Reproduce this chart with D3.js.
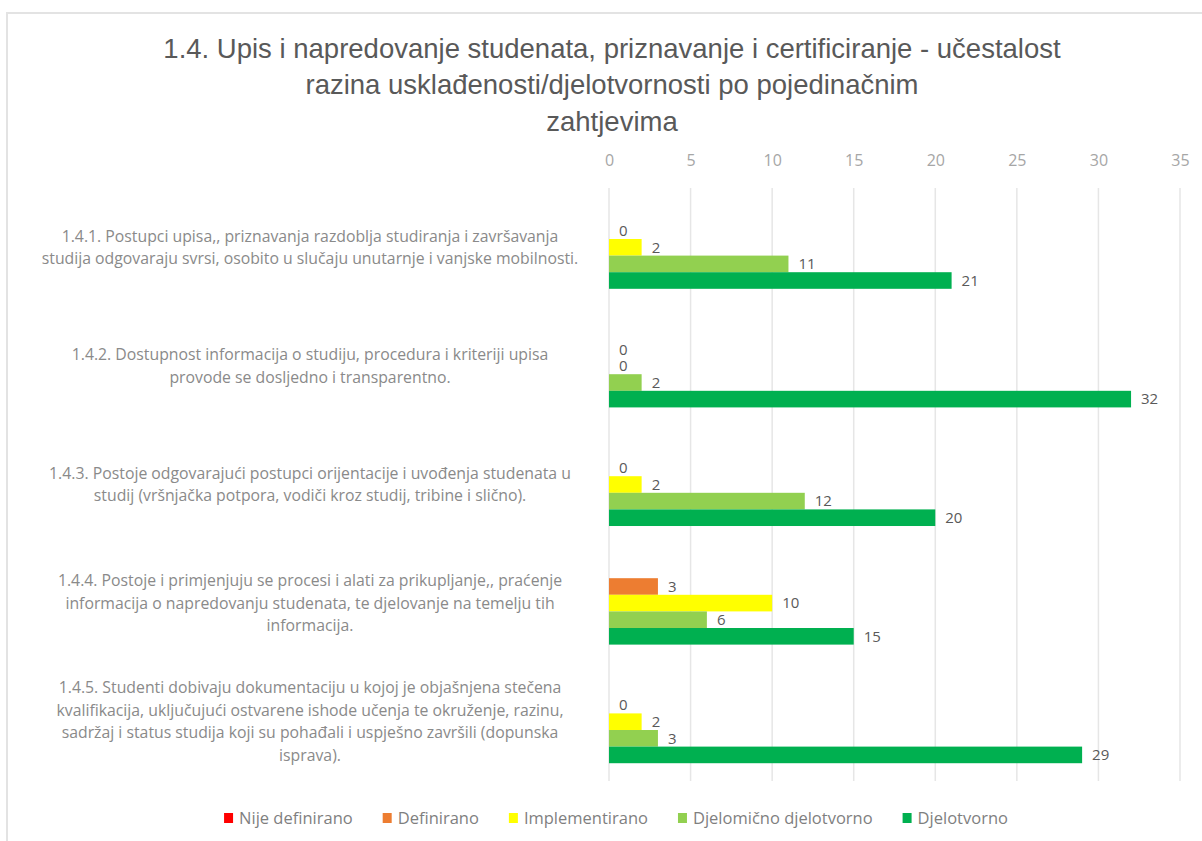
<!DOCTYPE html>
<html>
<head>
<meta charset="utf-8">
<script src="https://cdn.jsdelivr.net/npm/d3@7"></script>
<style>
  body { margin: 0; background: #fff; }
  svg { display: block; }
  text { font-family: 'Open Sans', 'Liberation Sans', sans-serif; }
</style>
</head>
<body>
<div id="chart"></div>
<script>
// data
var titleLines = [
    '1.4. Upis i napredovanje studenata, priznavanje i certificiranje - učestalost',
    'razina usklađenosti/djelotvornosti po pojedinačnim',
    'zahtjevima'
]

var categories = ['1.4.1.', '1.4.2.', '1.4.3.', '1.4.4.', '1.4.5.']

var categoryLines = [
    ['1.4.1. Postupci upisa,, priznavanja razdoblja studiranja i završavanja',
     'studija odgovaraju svrsi, osobito u slučaju unutarnje i vanjske mobilnosti.'],
    ['1.4.2. Dostupnost informacija o  studiju, procedura i kriteriji upisa',
     'provode se dosljedno i transparentno.'],
    ['1.4.3. Postoje odgovarajući postupci orijentacije i uvođenja studenata u',
     'studij (vršnjačka potpora, vodiči  kroz studij, tribine i slično).'],
    ['1.4.4. Postoje i primjenjuju se procesi i alati za prikupljanje,, praćenje',
     'informacija o napredovanju studenata, te djelovanje na temelju tih',
     'informacija.'],
    ['1.4.5. Studenti dobivaju dokumentaciju u kojoj je objašnjena stečena',
     'kvalifikacija, uključujući ostvarene  ishode učenja te okruženje, razinu,',
     'sadržaj i status studija koji su pohađali i uspješno završili (dopunska',
     'isprava).']
]

var seriesNames = ['Nije definirano', 'Definirano', 'Implementirano', 'Djelomično djelotvorno', 'Djelotvorno']

var nijeDefinirano = [null, null, null, null, null]
var definirano = [0, 0, 0, 3, 0]
var implementirano = [2, 0, 2, 10, 2]
var djelomicnoDjelotvorno = [11, 2, 12, 6, 3]
var djelotvorno = [21, 32, 20, 15, 29]

var xTicks = [0, 5, 10, 15, 20, 25, 30, 35]

var seriesValues = [nijeDefinirano, definirano, implementirano, djelomicnoDjelotvorno, djelotvorno]
var colors = ['#ff0000', '#ed7d31', '#ffff00', '#92d050', '#00b050']

var W = 1202,
    H = 841

var svg = d3.select('#chart')
    .append('svg')
    .attr('width', W)
    .attr('height', H)

// chart border (runs off the picture on the right and bottom)
svg.append('rect')
    .attr('x', 7)
    .attr('y', 13)
    .attr('width', 1300)
    .attr('height', 1000)
    .attr('fill', 'none')
    .attr('stroke', '#e3e3e3')
    .attr('stroke-width', 2)

// title
svg.append('g')
    .selectAll('text')
    .data(titleLines)
    .enter()
    .append('text')
    .text(d => d)
    .attr('x', 612)
    .attr('y', (d, i) => 48 + i * 36.5)
    .attr('dy', '0.35em')
    .attr('text-anchor', 'middle')
    .attr('fill', '#595959')
    .style('font-family', "'Liberation Sans', sans-serif")
    .style('font-size', '27.5px')

// scales
var xscale = d3.scaleLinear()
    .domain([0, 35])
    .range([609, 1180])

var yscale = d3.scaleBand()
    .domain(categories)
    .range([188, 781])
    .paddingInner(0.3)
    .paddingOuter(0.15)

var sscale = d3.scaleBand()
    .domain(seriesNames)
    .range([0, yscale.bandwidth()])

// grid
svg.append('g')
    .selectAll('line')
    .data(xTicks)
    .enter()
    .append('line')
    .attr('x1', d => xscale(d))
    .attr('x2', d => xscale(d))
    .attr('y1', 188)
    .attr('y2', 781)
    .attr('stroke', '#e6e6e6')
    .attr('stroke-width', 1.5)

// top axis
var xaxis = d3.axisTop(xscale)
    .tickValues(xTicks)
    .tickSize(0)
    .tickPadding(0)
var gx = svg.append('g')
    .attr('transform', 'translate(0, 166)')
    .call(xaxis)
gx.select('.domain').remove()
gx.selectAll('text')
    .attr('fill', '#a6a6a6')
    .style('font-size', '16px')
    .style('font-family', "'Open Sans', sans-serif")

// category labels
var catG = svg.append('g')
    .selectAll('g')
    .data(categories)
    .enter()
    .append('g')
    .attr('transform', d => `translate(310, ${yscale(d) + yscale.bandwidth() / 2})`)

catG.each(function (d, i) {
    var lines = categoryLines[i]
    d3.select(this).selectAll('text')
        .data(lines)
        .enter()
        .append('text')
        .text(t => t)
        .attr('x', 0)
        .attr('y', (t, j) => (j - (lines.length - 1) / 2) * 22.5)
        .attr('dy', '0.35em')
        .attr('text-anchor', 'middle')
        .attr('fill', '#8a8a8a')
        .style('font-size', '15.8px')
})

// bars
var rows = []
seriesValues.forEach((vals, s) => {
    vals.forEach((v, c) => {
        if (v !== null) rows.push({ series: seriesNames[s], color: colors[s], cat: categories[c], value: v })
    })
})

svg.append('g')
    .selectAll('rect')
    .data(rows)
    .enter()
    .append('rect')
    .attr('x', xscale(0))
    .attr('y', d => yscale(d.cat) + sscale(d.series))
    .attr('width', d => xscale(d.value) - xscale(0))
    .attr('height', sscale.bandwidth())
    .attr('fill', d => d.color)

// value labels
svg.append('g')
    .selectAll('text')
    .data(rows)
    .enter()
    .append('text')
    .text(d => d.value)
    .attr('x', d => xscale(d.value) + 10)
    .attr('y', d => yscale(d.cat) + sscale(d.series) + sscale.bandwidth() / 2)
    .attr('dy', '0.35em')
    .attr('fill', '#595959')
    .style('font-size', '15px')

// legend
var legend = svg.append('g')
var lx = 0
seriesNames.forEach((name, i) => {
    var item = legend.append('g').attr('transform', `translate(${lx}, 0)`)
    item.append('rect')
        .attr('x', 0)
        .attr('y', -5)
        .attr('width', 9)
        .attr('height', 10)
        .attr('fill', colors[i])
    var t = item.append('text')
        .text(name)
        .attr('x', 15)
        .attr('y', 0)
        .attr('dy', '0.35em')
        .attr('fill', '#7f7f7f')
        .style('font-size', '16.5px')
    lx += 15 + t.node().getComputedTextLength() + 30
})
var legendW = lx - 30
legend.attr('transform', `translate(${616 - legendW / 2}, 818)`)
</script>
</body>
</html>
